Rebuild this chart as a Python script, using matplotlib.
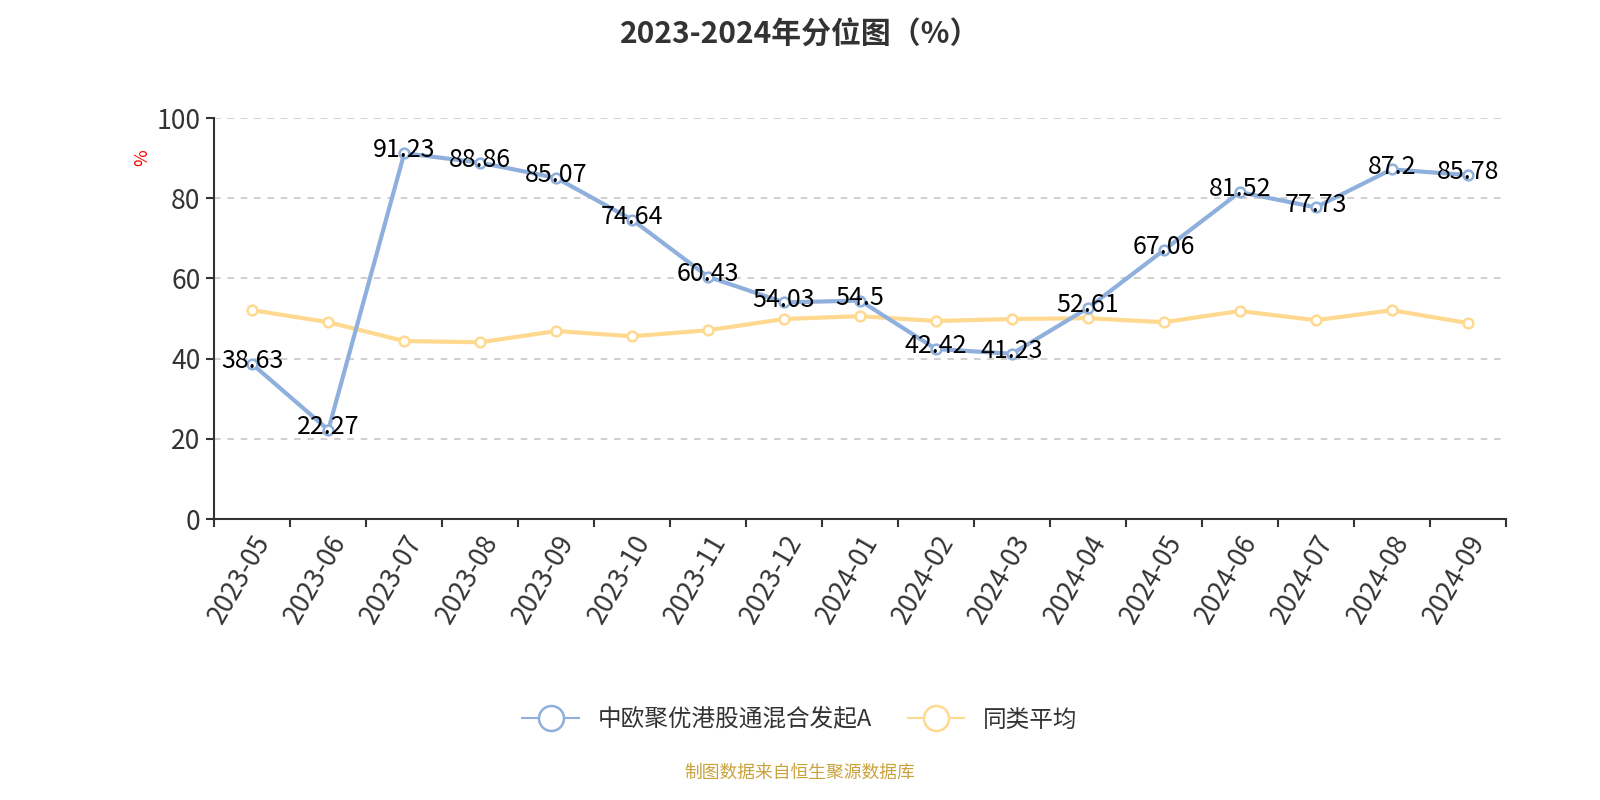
import numpy as np
import matplotlib
matplotlib.use('Agg')
import matplotlib.pyplot as plt
from matplotlib.lines import Line2D

plt.rcParams['font.family'] = ['Noto Sans CJK SC', 'DejaVu Sans']

# Data
months = ['2023-05', '2023-06', '2023-07', '2023-08', '2023-09', '2023-10',
          '2023-11', '2023-12', '2024-01', '2024-02', '2024-03', '2024-04',
          '2024-05', '2024-06', '2024-07', '2024-08', '2024-09']
fund = [38.63, 22.27, 91.23, 88.86, 85.07, 74.64, 60.43, 54.03, 54.5,
        42.42, 41.23, 52.61, 67.06, 81.52, 77.73, 87.2, 85.78]
peer_avg = [52.1, 49.1, 44.4, 44.1, 46.9, 45.6, 47.1, 49.9, 50.6,
            49.4, 49.9, 50.1, 49.1, 51.9, 49.6, 52.1, 48.9]
fund_name = '中欧聚优港股通混合发起A'
peer_name = '同类平均'

blue = '#8fb0dc'
yellow = '#ffd990'
axis_col = '#333333'

fig = plt.figure(figsize=(16, 8), dpi=100)
ax = fig.add_axes([0.134, 0.351, 0.807, 0.5015])
x = np.arange(len(months))

ax.plot(x, peer_avg, color=yellow, lw=3, marker='o', ms=7,
        mfc='white', mec=yellow, mew=1.8, zorder=3)
ax.plot(x, fund, color=blue, lw=3, marker='o', ms=7,
        mfc='white', mec=blue, mew=1.8, zorder=4)

# value labels on the fund line
for xi, v in zip(x, fund):
    ax.annotate(f'{v:g}', (xi, v), xytext=(0, 2), textcoords='offset points',
                ha='center', va='center', fontsize=18, color='black', zorder=5)

ax.set_xlim(-0.5, len(months) - 0.5)
ax.set_ylim(0, 100)
ax.set_yticks([0, 20, 40, 60, 80, 100])
for g in [20, 40, 60, 80, 100]:
    ax.axhline(g, color='#c8c8c8', lw=1.2, ls=(0, (4, 4)), zorder=1)

# category axis: ticks on the boundaries, labels at the centres
ax.set_xticks(np.arange(len(months) + 1) - 0.5)
ax.set_xticklabels([])
ax.set_xticks(x, minor=True)
ax.set_xticklabels(months, minor=True, rotation=60, ha='right',
                   rotation_mode='anchor', fontsize=19, color=axis_col)
ax.tick_params(axis='x', which='minor', length=0, pad=8)
ax.tick_params(axis='x', which='major', length=6, width=1.5, color=axis_col)
ax.tick_params(axis='y', length=6, width=1.5, color=axis_col,
               labelsize=19, labelcolor=axis_col, pad=4)

for s in ['top', 'right']:
    ax.spines[s].set_visible(False)
for s in ['left', 'bottom']:
    ax.spines[s].set_color(axis_col)
    ax.spines[s].set_linewidth(1.5)

ax.set_ylabel('%', color='red', fontsize=13)
ax.yaxis.set_label_coords(-0.049, 0.90)

fig.suptitle('2023-2024年分位图（%）', fontsize=21.5, fontweight='bold',
             color='#333333', y=0.975)

handles = [Line2D([], [], color=blue, lw=1.5, marker='o', ms=18,
                  mfc='white', mec=blue, mew=1.8),
           Line2D([], [], color=yellow, lw=1.5, marker='o', ms=18,
                  mfc='white', mec=yellow, mew=1.8)]
fig.legend(handles, [fund_name, peer_name], loc='center',
           bbox_to_anchor=(0.5, 0.1), ncol=2, frameon=False,
           fontsize=17, handlelength=2.4, columnspacing=1.5,
           labelcolor='#333333')

fig.text(0.5, 0.034, '制图数据来自恒生聚源数据库', ha='center', va='center',
         fontsize=12.8, color='#c9a23c')

fig.savefig('out.png', dpi=100)
